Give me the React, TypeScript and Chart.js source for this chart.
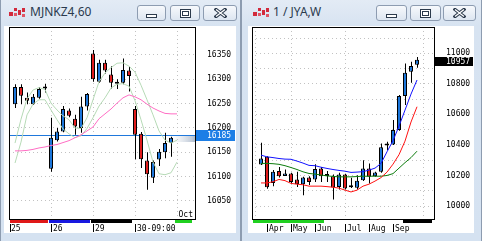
import React, { useEffect, useRef } from 'react';
import { Chart, registerables } from 'chart.js';

Chart.register(...registerables);

// ---------------- Left window: MJNKZ4,60 (hourly bars) ----------------
const leftTitle = 'MJNKZ4,60';
const leftOpen = [16249, 16284, 16262, 16249, 16262, 16283, 16116, 16175, 16193, 16236, 16219, 16200, 16244, 16353, 16295, 16334, 16310, 16293, 16293, 16318, 16239, 16188, 16133, 16098, 16135, 16150, 16169];
const leftHigh = [16290, 16290, 16273, 16270, 16284, 16291, 16221, 16200, 16245, 16240, 16227, 16264, 16272, 16360, 16340, 16340, 16327, 16300, 16343, 16326, 16245, 16192, 16150, 16133, 16157, 16190, 16182];
const leftLow = [16241, 16249, 16249, 16247, 16260, 16273, 16110, 16172, 16191, 16222, 16186, 16190, 16236, 16295, 16293, 16312, 16281, 16280, 16290, 16275, 16136, 16118, 16073, 16087, 16122, 16138, 16141];
const leftClose = [16284, 16266, 16256, 16264, 16280, 16281, 16180, 16193, 16239, 16225, 16203, 16244, 16270, 16300, 16334, 16318, 16293, 16291, 16319, 16307, 16186, 16136, 16105, 16130, 16151, 16169, 16180];
const leftPinkMA = [16153, 16153, 16154, 16156, 16159, 16161, 16164, 16166, 16170, 16174, 16180, 16186, 16194, 16202, 16219, 16229, 16239, 16251, 16262, 16268, 16264, 16258, 16249, 16241, 16235, 16230, 16229, 16229];
const leftGreenUpper = [16169, 16218, 16260, 16278, 16283, 16279, 16251, 16237, 16225, 16217, 16200, 16199, 16221, 16258, 16295, 16313, 16324, 16333, 16334, 16327, 16315, 16288, 16258, 16227, 16194, 16175, 16169, 16175];
const leftGreenLower = [16128, 16171, 16227, 16249, 16258, 16258, 16237, 16217, 16198, 16188, 16180, 16184, 16199, 16221, 16245, 16262, 16282, 16290, 16291, 16286, 16256, 16217, 16175, 16130, 16106, 16104, 16108, 16130];
const leftYTicks = [16050, 16100, 16150, 16200, 16250, 16300, 16350];
const leftDayIdx = [-1, 6, 13, 20, 27];
const leftDayLabels = ['25', '26', '29', '30-09:00', ''];
const leftSessionEnd = 30;
const leftBandColors = ['#e01818', '#1818e0', '#000000', '#ffffff', '#20d020'];
const leftPrice = 16185;
const leftCorner = 'Oct';

// ---------------- Right window: 1 / JYA,W (weekly bars) ----------------
const rightTitle = '1 / JYA,W';
const rightOpen = [10272, 10322, 10151, 10230, 10197, 10213, 10174, 10143, 10187, 10174, 10246, 10197, 10195, 10125, 10207, 10123, 10119, 10169, 10246, 10195, 10224, 10397, 10403, 10497, 10720, 10879, 10925];
const rightHigh = [10414, 10326, 10235, 10256, 10239, 10218, 10224, 10191, 10195, 10274, 10256, 10230, 10207, 10217, 10212, 10185, 10202, 10300, 10279, 10225, 10410, 10420, 10563, 10727, 10934, 10945, 10975];
const rightLow = [10268, 10113, 10130, 10187, 10196, 10143, 10125, 10071, 10137, 10158, 10158, 10158, 10043, 10108, 10108, 10118, 10108, 10163, 10148, 10192, 10217, 10366, 10399, 10492, 10661, 10807, 10905];
const rightClose = [10311, 10123, 10224, 10195, 10213, 10158, 10143, 10187, 10158, 10243, 10195, 10200, 10121, 10207, 10115, 10127, 10165, 10246, 10191, 10220, 10384, 10401, 10497, 10720, 10873, 10917, 10957];
const rightBlueMA = [10333, 10322, 10317, 10311, 10307, 10306, 10294, 10281, 10266, 10264, 10254, 10246, 10239, 10233, 10228, 10220, 10222, 10225, 10235, 10248, 10279, 10355, 10428, 10523, 10628, 10733, 10825];
const rightRedMA = [10151, 10151, 10159, 10174, 10166, 10148, 10143, 10139, 10130, 10130, 10130, 10127, 10123, 10117, 10104, 10092, 10104, 10130, 10143, 10163, 10186, 10222, 10274, 10336, 10425, 10550, 10650];
const rightGreenMA = [10279, 10279, 10277, 10273, 10264, 10252, 10239, 10224, 10213, 10209, 10203, 10197, 10194, 10191, 10191, 10191, 10193, 10195, 10195, 10195, 10195, 10200, 10212, 10248, 10284, 10317, 10359];
const rightYTicks = [10000, 10100, 10200, 10300, 10400, 10500, 10600, 10700, 10800, 10900, 11000, 11100];
const rightMonthIdx = [1, 5, 9, 14, 18, 22];
const rightMonthLabels = ['Apr', 'May', 'Jun', 'Jul', 'Aug', 'Sep'];
const rightGridIdx = [-1, 5, 14, 27];
const rightBandStarts = [-2, 11, 24];
const rightSessionEnd = 29;
const rightBandColors = ['#20d020', '#ffffff', '#000000'];

// ---------------- styling ----------------
const MONO = 'DejaVu Sans Mono';
const GRID = '#c2c2c2';
const UP = '#1c76da';
const DOWN = '#e01c1c';

type Band = { start: number; end: number; color: string };
type Panel = {
  width: number; height: number; padLeft: number; padTop: number; axisWidth: number; axisHeight: number;
  xMin: number; xMax: number; yMin: number; yMax: number;
  open: number[]; high: number[]; low: number[]; close: number[];
  lines: { data: number[]; color: string }[];
  yTicks: number[]; yLabel: (v: number) => string;
  xTicks: number[]; xLabel: (v: number) => string; xGrid: (v: number) => boolean; xMarks: number[];
  bands: Band[];
  price: number; priceBox: string; priceLine?: string; ghost?: boolean; boxShift: number; boxH: number;
  corner?: string;
};

const leftPanel: Panel = {
  width: 232, height: 207, padLeft: 5, padTop: 1, axisWidth: 41, axisHeight: 14,
  xMin: -1, xMax: 30, yMin: 16013, yMax: 16407.5,
  open: leftOpen, high: leftHigh, low: leftLow, close: leftClose,
  lines: [
    { data: leftPinkMA, color: '#ff6ec4' },
    { data: leftGreenUpper, color: '#b6dab6' },
    { data: leftGreenLower, color: '#b6dab6' },
  ],
  yTicks: leftYTicks, yLabel: (v) => String(v),
  xTicks: leftDayIdx,
  xLabel: (v) => { const k = leftDayIdx.indexOf(v); return k >= 0 ? leftDayLabels[k] : ''; },
  xGrid: () => true,
  xMarks: leftDayIdx.filter((_, k) => leftDayLabels[k] !== ''),
  bands: leftDayIdx.map((s, k) => ({ start: s, end: k + 1 < leftDayIdx.length ? leftDayIdx[k + 1] : leftSessionEnd, color: leftBandColors[k] })),
  price: leftPrice, priceBox: '#1c7ee6', priceLine: '#1f78dc', ghost: true, boxShift: 0, boxH: 11,
  corner: leftCorner,
};

const rightXTicks = Array.from(new Set([...rightGridIdx, ...rightMonthIdx])).sort((a, b) => a - b);

const rightPanel: Panel = {
  width: 226, height: 207, padLeft: 4, padTop: 1, axisWidth: 40, axisHeight: 14,
  xMin: -1.5, xMax: 28.8333333, yMin: 9914.9, yMax: 11172.2,
  open: rightOpen, high: rightHigh, low: rightLow, close: rightClose,
  lines: [
    { data: rightBlueMA, color: '#1212ff' },
    { data: rightRedMA, color: '#ff1212' },
    { data: rightGreenMA, color: '#0c7c0c' },
  ],
  yTicks: rightYTicks, yLabel: (v) => (v % 200 === 0 ? String(v) : ''),
  xTicks: rightXTicks,
  xLabel: (v) => { const k = rightMonthIdx.indexOf(v); return k >= 0 ? rightMonthLabels[k] : ''; },
  xGrid: (v) => rightGridIdx.includes(v),
  xMarks: rightMonthIdx,
  bands: rightBandStarts.map((s, k) => ({ start: s, end: k + 1 < rightBandStarts.length ? rightBandStarts[k + 1] : rightSessionEnd, color: rightBandColors[k] })),
  price: rightClose[rightClose.length - 1], priceBox: '#000000', boxShift: 1.5, boxH: 9,
};

function decorPlugin(p: Panel) {
  return {
    id: 'decor',
    beforeDatasetsDraw(chart: any) {
      const { ctx, chartArea: a } = chart;
      const ys = chart.scales.y;
      const yp = ys.getPixelForValue(p.price);
      ctx.save();
      if (p.ghost) {
        const g = ctx.createLinearGradient(a.right - 24, 0, a.right, 0);
        g.addColorStop(0, 'rgba(215,222,232,0)');
        g.addColorStop(1, 'rgba(168,182,200,0.9)');
        ctx.fillStyle = g;
        ctx.fillRect(a.right - 24, Math.round(yp) + 1, 24, 6);
      }
      if (p.priceLine) {
        ctx.strokeStyle = p.priceLine;
        ctx.lineWidth = 1;
        ctx.beginPath();
        ctx.moveTo(a.left, Math.round(yp) + 0.5);
        ctx.lineTo(a.right, Math.round(yp) + 0.5);
        ctx.stroke();
      }
      ctx.restore();
    },
    afterDraw(chart: any) {
      const { ctx, chartArea: a } = chart;
      const xs = chart.scales.x;
      const ys = chart.scales.y;
      ctx.save();
      // plot frame
      ctx.strokeStyle = '#000';
      ctx.lineWidth = 1;
      ctx.strokeRect(a.left + 0.5, a.top + 0.5, a.right - a.left, a.bottom - a.top);
      // session colour band under the plot
      p.bands.forEach((b) => {
        const x0 = Math.max(Math.round(xs.getPixelForValue(b.start - 0.5)) + 1, a.left + 1);
        const x1 = Math.min(Math.round(xs.getPixelForValue(b.end - 0.5)), a.right);
        ctx.fillStyle = b.color;
        ctx.fillRect(x0, a.bottom + 1, x1 - x0, 3);
      });
      // tick marks before the time labels
      ctx.fillStyle = '#000';
      p.xMarks.forEach((v) => {
        const px = Math.max(Math.round(xs.getPixelForValue(v)), a.left + 1);
        ctx.fillRect(px, a.bottom + 5, 1, 8);
      });
      // corner label
      if (p.corner) {
        ctx.font = `8px "${MONO}"`;
        ctx.textAlign = 'right';
        ctx.textBaseline = 'alphabetic';
        ctx.fillStyle = '#000';
        ctx.fillText(p.corner, a.right - 2, a.bottom - 2);
      }
      // price box
      const yp = ys.getPixelForValue(p.price) + p.boxShift;
      const top = Math.round(yp - p.boxH / 2);
      ctx.fillStyle = p.priceBox;
      ctx.fillRect(a.right + 1, top, chart.width - a.right - 2, p.boxH);
      ctx.fillStyle = '#fff';
      ctx.font = `8px "${MONO}"`;
      ctx.textAlign = 'left';
      ctx.textBaseline = 'middle';
      ctx.fillText(String(p.price), a.right + 12, top + p.boxH / 2 + 0.5);
      ctx.restore();
    },
  };
}

function buildChart(canvas: HTMLCanvasElement, p: Panel) {
  const idx = p.open.map((_, i) => i);
  const plotW = p.width - p.padLeft - p.axisWidth;
  const halfPx = (0.5 * (p.xMax - p.xMin)) / plotW;
  const lineSets = p.lines.map((l) => ({
    type: 'line' as const,
    data: l.data.map((v, i) => ({ x: i, y: v })),
    borderColor: l.color,
    borderWidth: 1,
    pointRadius: 0,
    tension: 0,
    xAxisID: 'x',
    yAxisID: 'y',
  }));
  const bodies = {
    type: 'bar' as const,
    data: idx.map((i) => ({ x: i, y: [Math.min(p.open[i], p.close[i]), Math.max(p.open[i], p.close[i])] })),
    backgroundColor: idx.map((i) => (p.close[i] >= p.open[i] ? UP : DOWN)),
    borderColor: '#000',
    borderWidth: 1,
    borderSkipped: false,
    barThickness: 4,
    maxBarThickness: 4,
    minBarLength: 2,
    grouped: false,
    inflateAmount: 0,
    xAxisID: 'x',
    yAxisID: 'y',
  };
  const wicks = {
    type: 'bar' as const,
    data: idx.map((i) => ({ x: i, y: [p.low[i], p.high[i]] })),
    backgroundColor: '#000',
    borderWidth: 0,
    barThickness: 1,
    maxBarThickness: 1,
    grouped: false,
    inflateAmount: 0,
    xAxisID: 'x2',
    yAxisID: 'y',
  };
  const tickFont = { family: MONO, size: 8 };
  return new Chart(canvas, {
    type: 'bar',
    data: { datasets: [...lineSets, bodies, wicks] as any },
    plugins: [decorPlugin(p)],
    options: {
      animation: false,
      responsive: false,
      maintainAspectRatio: false,
      devicePixelRatio: 1,
      events: [],
      layout: { autoPadding: false, padding: { left: p.padLeft, top: p.padTop, right: 0, bottom: 0 } },
      plugins: { legend: { display: false }, tooltip: { enabled: false } },
      scales: {
        x: {
          type: 'linear',
          position: 'bottom',
          min: p.xMin,
          max: p.xMax,
          offset: false,
          afterBuildTicks: (s: any) => { s.ticks = p.xTicks.map((v) => ({ value: v })); },
          afterFit: (s: any) => { s.height = p.axisHeight; s.paddingLeft = 0; s.paddingRight = 0; },
          grid: {
            offset: false,
            drawTicks: false,
            lineWidth: 1,
            color: (c: any) => (c.tick && p.xGrid(c.tick.value) ? GRID : 'rgba(0,0,0,0)'),
          },
          border: { display: false, dash: [1, 3] },
          ticks: {
            autoSkip: false, maxRotation: 0, minRotation: 0, align: 'start', labelOffset: 2, padding: 5,
            color: '#000', font: tickFont,
            callback: (v: any) => p.xLabel(Number(v)),
          },
        },
        x2: {
          type: 'linear',
          display: false,
          min: p.xMin - halfPx,
          max: p.xMax - halfPx,
          offset: false,
          grid: { offset: false },
        },
        y: {
          type: 'linear',
          position: 'right',
          min: p.yMin,
          max: p.yMax,
          beginAtZero: false,
          afterBuildTicks: (s: any) => { s.ticks = p.yTicks.map((v) => ({ value: v })); },
          afterFit: (s: any) => { s.width = p.axisWidth; s.paddingTop = 0; s.paddingBottom = 0; },
          grid: { drawTicks: false, color: GRID, lineWidth: 1 },
          border: { display: false, dash: [1, 3] },
          ticks: { padding: 12, color: '#000', font: tickFont, callback: (v: any) => p.yLabel(Number(v)) },
        },
      },
    } as any,
  });
}

function ChartCanvas({ panel, left, top }: { panel: Panel; left: number; top: number }) {
  const ref = useRef<HTMLCanvasElement>(null);
  useEffect(() => {
    const chart = buildChart(ref.current as HTMLCanvasElement, panel);
    return () => chart.destroy();
  }, []);
  return (
    <canvas
      ref={ref}
      width={panel.width}
      height={panel.height}
      style={{ position: 'absolute', left, top, width: panel.width, height: panel.height, display: 'block', background: '#fff' }}
    />
  );
}

const GLYPH = '#2c3a4c';

function Glyph({ kind }: { kind: 'min' | 'max' | 'close' }) {
  if (kind === 'min') {
    return (
      <svg width="11" height="5" style={{ marginTop: 6 }}>
        <rect x="0.5" y="0.5" width="10" height="3" fill="#fff" stroke={GLYPH} />
      </svg>
    );
  }
  if (kind === 'max') {
    return (
      <svg width="11" height="9">
        <rect x="0.5" y="0.5" width="10" height="8" fill="#fff" stroke={GLYPH} />
        <rect x="2.5" y="2.5" width="6" height="4" fill="none" stroke={GLYPH} />
      </svg>
    );
  }
  return (
    <svg width="13" height="10">
      <path d="M2 1.5 L11 8.5 M11 1.5 L2 8.5" stroke={GLYPH} strokeWidth="3.4" strokeLinecap="square" />
      <path d="M2 1.5 L11 8.5 M11 1.5 L2 8.5" stroke="#fff" strokeWidth="1.3" />
    </svg>
  );
}

function Btn({ left, width, kind }: { left: number; width: number; kind: 'min' | 'max' | 'close' }) {
  return (
    <div
      style={{
        position: 'absolute', left, top: 5, width, height: 16, boxSizing: 'border-box',
        border: '1px solid #8d9cb1', borderRadius: 3,
        background: 'linear-gradient(#f7f9fc, #dde6f1)',
        display: 'flex', alignItems: 'center', justifyContent: 'center',
      }}
    >
      <Glyph kind={kind} />
    </div>
  );
}

function Icon({ left }: { left: number }) {
  return (
    <svg width="17" height="12" style={{ position: 'absolute', left, top: 7 }}>
      <rect x="0" y="5" width="4" height="4" fill="#d22a3c" />
      <rect x="5" y="1" width="3" height="3" fill="#d22a3c" />
      <rect x="5" y="6" width="3" height="3" fill="#e05565" />
      <rect x="9" y="3" width="3" height="5" fill="#d22a3c" />
      <rect x="13" y="1" width="3" height="4" fill="#d22a3c" />
      <rect x="13" y="7" width="3" height="3" fill="#e05565" />
    </svg>
  );
}

function Win(props: {
  left: number; width: number; title: string; iconX: number; titleX: number;
  btns: [number, number][]; clientX: number; panel: Panel;
}) {
  const { left, width, title, iconX, titleX, btns, clientX, panel } = props;
  const kinds: ('min' | 'max' | 'close')[] = ['min', 'max', 'close'];
  return (
    <div
      style={{
        position: 'absolute', left, top: 0, width, height: 241, boxSizing: 'border-box',
        borderLeft: '1px solid #8d9cb0', borderRight: '1px solid #8d9cb0',
        background: 'linear-gradient(#e3ebf5 0px, #d7e3f1 26px, #d5e2f1 241px)',
      }}
    >
      <Icon left={iconX - 1} />
      <div
        style={{
          position: 'absolute', left: titleX - 1, top: 6, fontFamily: '"Noto Sans", sans-serif',
          fontSize: 12, lineHeight: '12px', color: '#2a3a4e', whiteSpace: 'nowrap',
        }}
      >
        {title}
      </div>
      {btns.map(([x, w], k) => (
        <Btn key={k} left={x - 1} width={w} kind={kinds[k]} />
      ))}
      <ChartCanvas panel={panel} left={clientX - 1} top={26} />
    </div>
  );
}

export default function App() {
  return (
    <div style={{ position: 'absolute', left: 0, top: 0, width: 482, height: 241, overflow: 'hidden', background: '#d5e2f1' }}>
      <Win
        left={0} width={241} title={leftTitle} iconX={9} titleX={30}
        btns={[[137, 29], [170, 30], [203, 34]]} clientX={4} panel={leftPanel}
      />
      <Win
        left={241} width={241} title={rightTitle} iconX={12} titleX={32}
        btns={[[135, 31], [169, 31], [202, 33]]} clientX={7} panel={rightPanel}
      />
    </div>
  );
}
